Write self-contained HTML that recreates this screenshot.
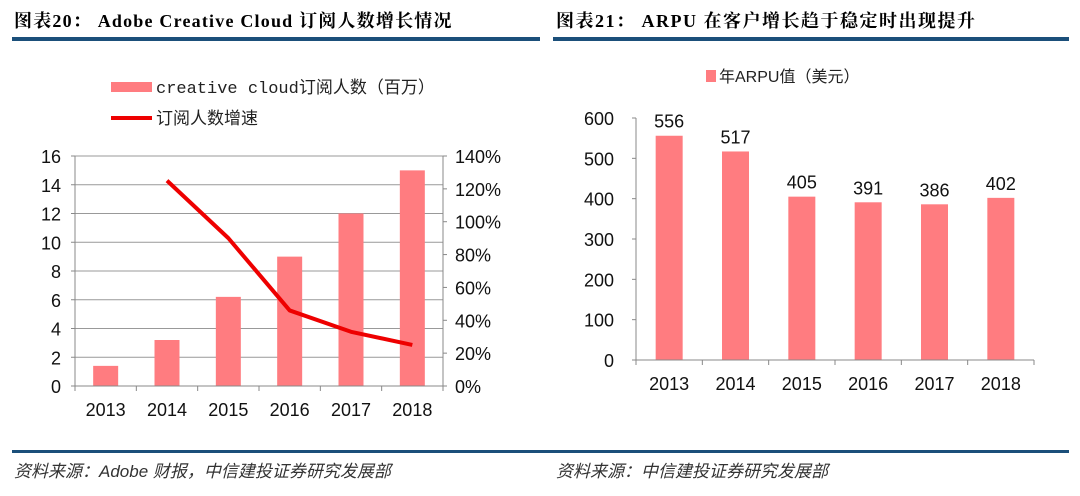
<!DOCTYPE html>
<html><head><meta charset="utf-8"><style>
body{margin:0;width:1080px;height:491px;background:#fff;overflow:hidden;font-family:"Liberation Sans","Noto Sans CJK SC",sans-serif}
svg text{font-family:"Liberation Sans","Noto Sans CJK SC",sans-serif}
</style></head><body>
<svg width="1080" height="491">
<text x="14" y="27" font-size="18" letter-spacing="1.2" font-weight="bold" style="font-family:'Liberation Serif','Noto Serif CJK SC',serif">图表20：  Adobe Creative Cloud 订阅人数增长情况</text>
<text x="556" y="27" font-size="18" letter-spacing="1.5" font-weight="bold" style="font-family:'Liberation Serif','Noto Serif CJK SC',serif">图表21：  ARPU 在客户增长趋于稳定时出现提升</text>
<rect x="12" y="37" width="528" height="4" fill="#1b4f7a"/>
<rect x="553" y="37" width="516" height="4" fill="#1b4f7a"/>
<rect x="12" y="450" width="1057" height="3" fill="#1b4f7a"/>
<text x="14" y="477" font-size="17" font-style="italic" fill="#333">资料来源：Adobe 财报，中信建投证券研究发展部</text>
<text x="556" y="477" font-size="17" font-style="italic" fill="#333">资料来源：中信建投证券研究发展部</text>
<rect x="111" y="82" width="41" height="10" fill="#ff7c80"/>
<text x="156" y="93" font-size="17" fill="#222" style="font-family:'Liberation Mono','Noto Sans CJK SC',monospace">creative cloud订阅人数（百万）</text>
<line x1="111" y1="118" x2="152" y2="118" stroke="#e00" stroke-width="4"/>
<text x="156" y="124" font-size="17" fill="#222">订阅人数增速</text>
<g id="left"></g>
<rect x="706" y="70" width="10" height="12" fill="#ff7c80"/>
<text x="719" y="82" font-size="16" fill="#222">年ARPU值（美元）</text>
<g id="right"></g>
</svg>
<script>
const years=["2013","2014","2015","2016","2017","2018"];
const subs=[1.4,3.2,6.2,9,12,15];
const growth=[null,1.25,0.90,0.46,0.33,0.25];
const leftTicks=[0,2,4,6,8,10,12,14,16];
const rightTicks=[0,0.2,0.4,0.6,0.8,1.0,1.2,1.4];
const arpu=[556,517,405,391,386,402];
const arpuTicks=[0,100,200,300,400,500,600];
const NS="http://www.w3.org/2000/svg";
function mk(p,t,a,txt){const e=document.createElementNS(NS,t);for(const k in a)e.setAttribute(k,a[k]);if(txt!=null)e.textContent=txt;p.appendChild(e);return e;}
// left
const L=document.getElementById('left');
const lx0=75,lx1=443,ly0=386,ly1=156,cw=(lx1-lx0)/years.length;
const ly=v=>ly0-(v/16)*(ly0-ly1), ry=v=>ly0-(v/1.4)*(ly0-ly1), cx=i=>lx0+cw*(i+0.5);
leftTicks.forEach(t=>{if(t>0){const g=mk(L,'line',{x1:lx0,x2:lx1,y1:ly(t),y2:ly(t),stroke:'#999','stroke-width':1});}
const tl=mk(L,'text',{x:lx0-14,y:ly(t)+7,'font-size':18,'text-anchor':'end',fill:'#111'},String(t));
mk(L,'line',{x1:lx0-4,x2:lx0,y1:ly(t),y2:ly(t),stroke:'#888'});});
rightTicks.forEach(t=>{const tl=mk(L,'text',{x:lx1+12,y:ry(t)+7,'font-size':18,fill:'#111'},Math.round(t*100)+'%');
mk(L,'line',{x1:lx1,x2:lx1+4,y1:ry(t),y2:ry(t),stroke:'#888'});});
mk(L,'line',{x1:lx0,x2:lx0,y1:ly1,y2:ly0,stroke:'#888'});
mk(L,'line',{x1:lx1,x2:lx1,y1:ly1,y2:ly0,stroke:'#888'});
subs.forEach((v,i)=>{const b=mk(L,'rect',{x:cx(i)-12.5,y:ly(v),width:25,height:ly0-ly(v),fill:'#ff7c80'});});
mk(L,'line',{x1:lx0,x2:lx1,y1:ly0,y2:ly0,stroke:'#888'});
for(let i=0;i<=years.length;i++)mk(L,'line',{x1:lx0+cw*i,x2:lx0+cw*i,y1:ly0,y2:ly0+5,stroke:'#888'});
years.forEach((y,i)=>{const t=mk(L,'text',{x:cx(i),y:416,'font-size':18,'text-anchor':'middle',fill:'#111'},y);});
const pts=growth.map((g,i)=>g==null?null:cx(i)+','+ry(g)).filter(p=>p);
const pl=mk(L,'polyline',{points:pts.join(' '),fill:'none',stroke:'#e00','stroke-width':4,'stroke-linejoin':'round'});


// right
const R=document.getElementById('right');
const rx0=636,rx1=1034,y0=360,y1=118,rcw=(rx1-rx0)/years.length;
const ay=v=>y0-(v/600)*(y0-y1), rcx=i=>rx0+rcw*(i+0.5);
arpuTicks.forEach(t=>{const tl=mk(R,'text',{x:rx0-22,y:ay(t)+7,'font-size':18,'text-anchor':'end',fill:'#111'},String(t));
mk(R,'line',{x1:rx0-4,x2:rx0,y1:ay(t),y2:ay(t),stroke:'#888'});});
mk(R,'line',{x1:rx0,x2:rx0,y1:y1,y2:y0,stroke:'#888'});
arpu.forEach((v,i)=>{const b=mk(R,'rect',{x:rcx(i)-13.5,y:ay(v),width:27,height:y0-ay(v),fill:'#ff7c80'});
const l=mk(R,'text',{x:rcx(i),y:ay(v)-8,'font-size':18,'text-anchor':'middle',fill:'#111'},String(v));});
mk(R,'line',{x1:rx0,x2:rx1,y1:y0,y2:y0,stroke:'#888'});
for(let i=0;i<=years.length;i++)mk(R,'line',{x1:rx0+rcw*i,x2:rx0+rcw*i,y1:y0,y2:y0+5,stroke:'#888'});
years.forEach((y,i)=>{const t=mk(R,'text',{x:rcx(i),y:390,'font-size':18,'text-anchor':'middle',fill:'#111'},y);});
</script>
</body></html>
